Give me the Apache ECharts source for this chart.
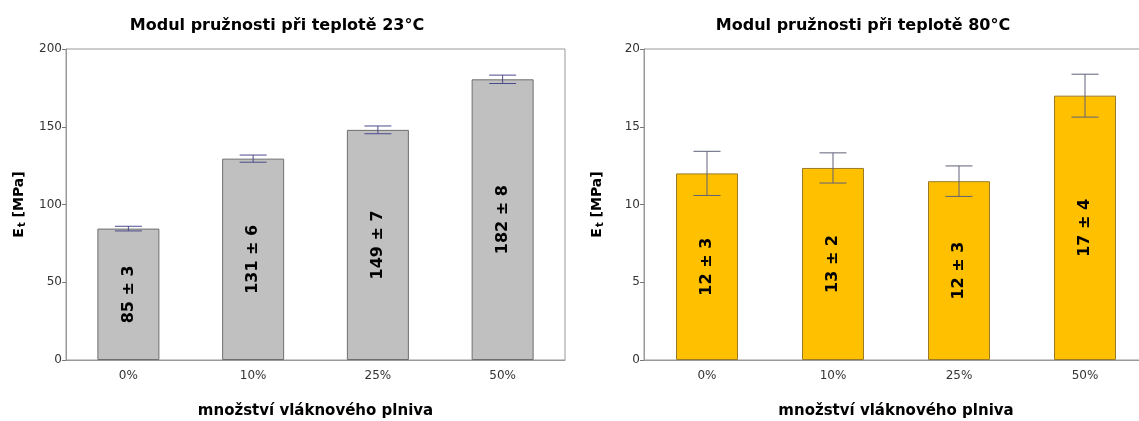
<!DOCTYPE html>
<html>
<head>
<meta charset="utf-8">
<script src="https://cdn.jsdelivr.net/npm/echarts@6/dist/echarts.min.js"></script>
<style>html,body{margin:0;padding:0;background:#fff}#c{width:1139px;height:421px}</style>
</head>
<body>
<div id="c"></div>
<script>
const categories = ['0%', '10%', '25%', '50%'];
const values23 = [84.5, 129.5, 148, 180.5];
const errors23 = [1.5, 2.3, 2.5, 2.7];
const labels23 = ['85 ± 3', '131 ± 6', '149 ± 7', '182 ± 8'];
const values80 = [12.0, 12.35, 11.5, 17.0];
const errors80 = [1.42, 0.97, 0.98, 1.38];
const labels80 = ['12 ± 3', '13 ± 2', '12 ± 3', '17 ± 4'];
const title23 = 'Modul pružnosti při teplotě 23°C';
const title80 = 'Modul pružnosti při teplotě 80°C';
const xName = 'množství vláknového plniva';

const FONT = 'DejaVu Sans';
const chart = echarts.init(document.getElementById('c'));

function yName() {
  return {
    name: '{b|E}{s|t}{b| [MPa]}',
    nameLocation: 'middle',
    nameGap: 39,
    nameRotate: 90,
    nameTextStyle: {
      rich: {
        b: {fontFamily: FONT, fontWeight: 'bold', fontSize: 14, color: '#000'},
        s: {fontFamily: FONT, fontWeight: 'bold', fontSize: 10, color: '#000', verticalAlign: 'bottom', padding: [6, 0, 0, 1]}
      }
    }
  };
}

function xAxis(gi) {
  return {
    type: 'category', gridIndex: gi, data: categories,
    name: xName, nameLocation: 'middle', nameGap: 44,
    nameTextStyle: {fontFamily: FONT, fontWeight: 'bold', fontSize: 15, color: '#000'},
    axisLine: {lineStyle: {color: '#999'}},
    axisTick: {alignWithLabel: true, length: 4, lineStyle: {color: '#777'}},
    axisLabel: {fontFamily: FONT, fontSize: 12, color: '#333', margin: 10}
  };
}

function yAxis(gi, max, interval) {
  return Object.assign({
    type: 'value', gridIndex: gi, min: 0, max: max, interval: interval,
    axisLine: {show: true, lineStyle: {color: '#999'}},
    axisTick: {show: true, length: 4, lineStyle: {color: '#777'}},
    axisLabel: {fontFamily: FONT, fontSize: 12, color: '#333', margin: 4},
    splitLine: {show: false}
  }, yName());
}

function barSeries(gi, vals, labs, color, border) {
  return {
    type: 'bar', xAxisIndex: gi, yAxisIndex: gi,
    data: vals, barWidth: 62,
    itemStyle: {color: color, borderColor: border, borderWidth: 1},
    label: {
      show: true, position: 'inside', rotate: 90,
      formatter: p => labs[p.dataIndex],
      fontFamily: FONT, fontWeight: 'bold', fontSize: 16, color: '#000'
    }
  };
}

function errSeries(gi, vals, errs, color) {
  return {
    type: 'custom', xAxisIndex: gi, yAxisIndex: gi, z: 10,
    data: vals.map((v, i) => [i, v, errs[i]]),
    renderItem: function (params, api) {
      const i = api.value(0), v = api.value(1), e = api.value(2);
      const hi = api.coord([i, v + e]);
      const lo = api.coord([i, v - e]);
      const hw = 13.5;
      const st = {stroke: color, lineWidth: 1};
      return {
        type: 'group',
        children: [
          {type: 'line', shape: {x1: hi[0], y1: hi[1], x2: lo[0], y2: lo[1]}, style: st},
          {type: 'line', shape: {x1: hi[0] - hw, y1: hi[1], x2: hi[0] + hw, y2: hi[1]}, style: st},
          {type: 'line', shape: {x1: lo[0] - hw, y1: lo[1], x2: lo[0] + hw, y2: lo[1]}, style: st}
        ]
      };
    }
  };
}

chart.setOption({
  animation: false,
  backgroundColor: '#fff',
  title: [
    {text: title23, left: 272, top: 13, textAlign: 'center',
     textStyle: {fontFamily: FONT, fontWeight: 'bold', fontSize: 16, color: '#000'}},
    {text: title80, left: 858, top: 13, textAlign: 'center',
     textStyle: {fontFamily: FONT, fontWeight: 'bold', fontSize: 16, color: '#000'}}
  ],
  grid: [
    {left: 66, top: 49, width: 499, height: 311, show: true, borderColor: '#999', borderWidth: 1,
     backgroundColor: 'transparent', outerBoundsMode: 'none'},
    {left: 644, top: 49, width: 504, height: 311, show: true, borderColor: '#999', borderWidth: 1,
     backgroundColor: 'transparent', outerBoundsMode: 'none'}
  ],
  xAxis: [xAxis(0), xAxis(1)],
  yAxis: [yAxis(0, 200, 50), yAxis(1, 20, 5)],
  series: [
    barSeries(0, values23, labels23, '#c0c0c0', '#6e6e6e'),
    errSeries(0, values23, errors23, '#4b4b8c'),
    barSeries(1, values80, labels80, '#ffc000', '#9a7a2a'),
    errSeries(1, values80, errors80, '#5e6178')
  ]
});
</script>
</body>
</html>
